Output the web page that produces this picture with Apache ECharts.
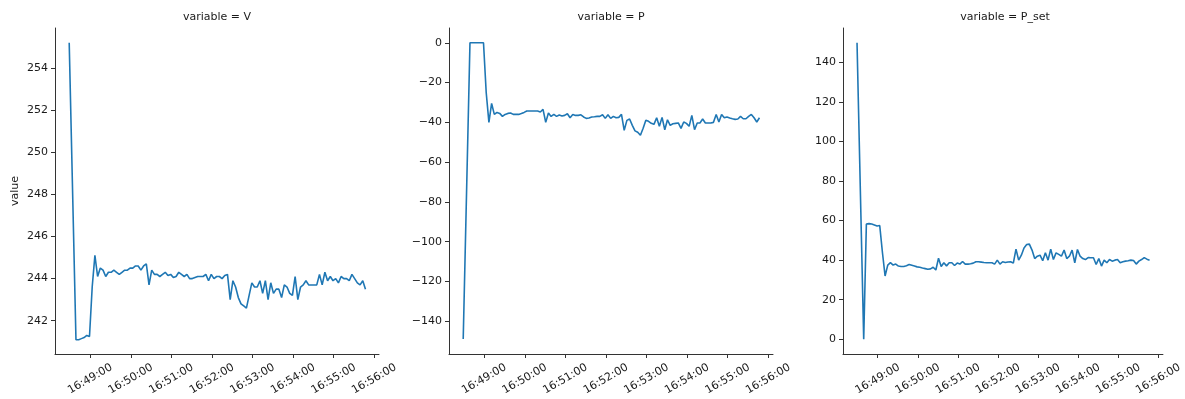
<!DOCTYPE html>
<html>
<head>
<meta charset="utf-8">
<script src="https://cdn.jsdelivr.net/npm/echarts@6/dist/echarts.min.js"></script>
<style>
  html, body { margin: 0; padding: 0; background: #fff; }
  #chart { width: 1185px; height: 399px; }
</style>
</head>
<body>
<div id="chart"></div>
<script>
// sampling: one early sample, then regular samples every 4 s
var day = '2024-01-01';
var firstSample = '16:48:29';
var regularStart = '16:48:39';
var stepSec = 4;

var panelNames = ['V', 'P', 'P_set'];

var vValues = [255.2,
  241.1, 241.1, 241.15, 241.2, 241.3, 241.25, 243.6, 245.1, 244.1, 244.5,
  244.4, 244.1, 244.3, 244.3, 244.4, 244.3, 244.2, 244.3, 244.4, 244.4,
  244.5, 244.5, 244.6, 244.6, 244.4, 244.6, 244.7, 243.7, 244.4, 244.2,
  244.2, 244.1, 244.2, 244.3, 244.15, 244.2, 244.05, 244.1, 244.3, 244.2,
  244.1, 244.2, 244.0, 244.0, 244.05, 244.1, 244.1, 244.1, 244.2, 243.9,
  244.2, 244.0, 244.1, 244.1, 244.0, 244.15, 244.2, 243.0, 243.9, 243.6,
  243.1, 242.8, 242.7, 242.6, 243.2, 243.8, 243.6, 243.6, 243.9, 243.3,
  243.9, 243.0, 243.8, 243.3, 243.5, 243.5, 243.1, 243.7, 243.6, 243.3,
  243.2, 244.1, 243.0, 243.6, 243.7, 243.9, 243.7, 243.7, 243.7, 243.7,
  244.2, 243.7, 244.3, 243.9, 244.1, 243.9, 244.0, 243.8, 244.1, 244.0,
  244.0, 243.9, 244.2, 244.0, 243.8, 243.7, 243.9, 243.5];

var pValues = [-149,
  0, 0, 0, 0, 0, 0, -25, -40, -30.5, -36,
  -35, -35.5, -37, -36, -35.5, -35.3, -36, -36, -36, -35.6,
  -35, -34.3, -34.3, -34.3, -34.3, -34.3, -34.8, -33.5, -40, -35.3,
  -37, -36, -37, -36.3, -36.8, -36.5, -35.7, -37.7, -36, -36.5,
  -36.5, -36.2, -37.3, -38, -37.8, -37.3, -37.2, -37, -37, -36.2,
  -38, -36.2, -38, -37, -37.7, -37.5, -36, -44, -39, -38.3,
  -41.5, -44.3, -45, -46.5, -43, -39, -39.5, -40.5, -41, -37.7,
  -42, -37.5, -43.7, -38.7, -41.5, -40.7, -40.5, -40.3, -43, -39.8,
  -40.5, -42, -36.5, -43.7, -40.3, -40.3, -38.3, -40.3, -40.3, -40.3,
  -40, -36, -39.8, -36, -37.7, -37.3, -37.8, -38.2, -38.5, -38.3,
  -37, -38.2, -38.2, -37, -36, -37.7, -39.8, -37.7];

var psetValues = [150,
  0, 58.3, 58.5, 58.3, 57.8, 57.3, 57.5, 44, 32, 37.5,
  38.7, 37.5, 38, 37, 36.8, 36.8, 37.2, 37.8, 37.4, 37,
  36.6, 36.4, 36, 35.7, 35.4, 35.6, 36.4, 35, 41, 36.8,
  38.7, 37.1, 38.7, 38.7, 37.3, 38.5, 38, 39.3, 38, 38,
  38.2, 38.5, 39.2, 39.2, 39, 38.8, 38.7, 38.7, 38.7, 38,
  40, 38, 39.2, 38.8, 39.1, 39.2, 38.5, 45.6, 40, 42.5,
  46.2, 47.9, 48.1, 45.1, 40.8, 42, 42.5, 39.7, 43.7, 40,
  45.6, 40.3, 43.7, 42.9, 42, 45.1, 40.8, 42, 45.1, 38.7,
  45.4, 42, 40.8, 40.3, 41.3, 41.2, 41.2, 37.8, 40.8, 37,
  40, 38.7, 40.3, 39.5, 40, 40.3, 38.7, 39.2, 39.5, 39.7,
  40, 39.8, 38, 39.5, 40.3, 41.3, 40.5, 40];

var timeTicks = ['16:49:00', '16:50:00', '16:51:00', '16:52:00',
                 '16:53:00', '16:54:00', '16:55:00', '16:56:00'];
var vTicks = [242, 244, 246, 248, 250, 252, 254];
var pTicks = [-140, -120, -100, -80, -60, -40, -20, 0];
var psetTicks = [0, 20, 40, 60, 80, 100, 120, 140];

var yRanges = [[240.42, 255.9], [-156.5, 7.45], [-7.5, 157.5]];
var xRange = ['16:48:08', '16:56:07'];

function ts(hms) { return new Date(day + 'T' + hms).getTime(); }
function pad(n) { return (n < 10 ? '0' : '') + n; }
function fmtTime(v) {
    var d = new Date(v);
    return pad(d.getHours()) + ':' + pad(d.getMinutes()) + ':' + pad(d.getSeconds());
}

var times = [ts(firstSample)];
for (var k = 0; k < vValues.length - 1; k++) {
    times.push(ts(regularStart) + k * stepSec * 1000);
}

var allValues = [vValues, pValues, psetValues];
var allTicks = [vTicks, pTicks, psetTicks];
var gridLefts = [55, 449, 843];
var gridWidth = 324;
var textColor = '#1a1a1a';
var axisColor = '#333';
var fontFamily = 'DejaVu Sans';
var fontSize = 11;

var chart = echarts.init(document.getElementById('chart'));

var grids = [], xAxes = [], yAxes = [], series = [], titles = [];
panelNames.forEach(function (name, i) {
    grids.push({ left: gridLefts[i], top: 28, width: gridWidth, height: 326 });
    xAxes.push({
        type: 'value',
        gridIndex: i,
        min: ts(xRange[0]),
        max: ts(xRange[1]),
        axisLine: { show: true, onZero: false, lineStyle: { color: axisColor, width: 1 } },
        axisTick: { show: true, length: 4, customValues: timeTicks.map(ts), lineStyle: { color: axisColor } },
        axisLabel: {
            customValues: timeTicks.map(ts),
            rotate: 30,
            align: 'center',
            verticalAlign: 'middle',
            margin: 25,
            fontSize: fontSize,
            fontFamily: fontFamily,
            color: textColor,
            formatter: fmtTime
        },
        splitLine: { show: false }
    });
    yAxes.push({
        type: 'value',
        gridIndex: i,
        min: yRanges[i][0],
        max: yRanges[i][1],
        name: i === 0 ? 'value' : '',
        nameLocation: 'middle',
        nameGap: 34,
        nameRotate: 90,
        nameTextStyle: { fontSize: fontSize, fontFamily: fontFamily, color: textColor },
        axisLine: { show: true, onZero: false, lineStyle: { color: axisColor, width: 1 } },
        axisTick: { show: true, length: 4, customValues: allTicks[i], lineStyle: { color: axisColor } },
        axisLabel: {
            customValues: allTicks[i],
            margin: 7,
            fontSize: fontSize,
            fontFamily: fontFamily,
            color: textColor,
            formatter: function (v) { return String(v).replace('-', '\u2212'); }
        },
        splitLine: { show: false }
    });
    series.push({
        type: 'line',
        xAxisIndex: i,
        yAxisIndex: i,
        showSymbol: false,
        lineStyle: { color: '#1f77b4', width: 1.6 },
        data: times.map(function (t, j) { return [t, allValues[i][j]]; })
    });
    titles.push({
        type: 'text',
        x: gridLefts[i] + gridWidth / 2,
        y: 17,
        style: {
            text: 'variable = ' + name,
            textAlign: 'center', align: 'center',
            textVerticalAlign: 'middle', verticalAlign: 'middle',
            fontSize: fontSize,
            fontFamily: fontFamily,
            fill: textColor
        }
    });
});

chart.setOption({
    animation: false,
    backgroundColor: '#fff',
    grid: grids,
    xAxis: xAxes,
    yAxis: yAxes,
    series: series,
    graphic: titles
});
</script>
</body>
</html>
